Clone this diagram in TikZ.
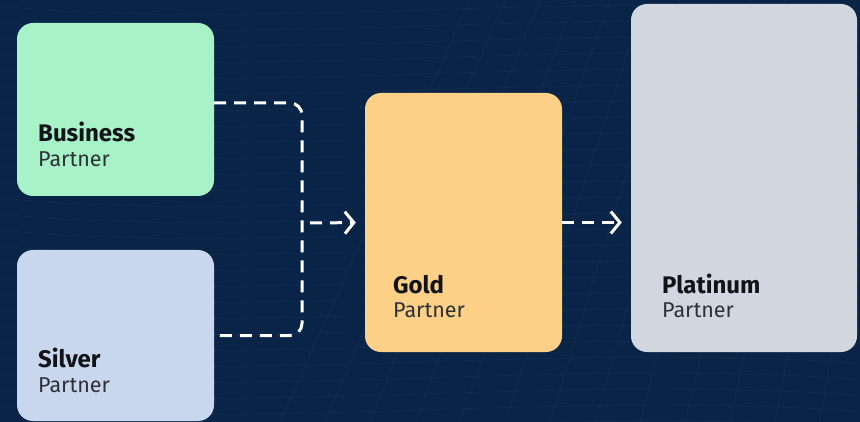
\documentclass[tikz,border=0pt]{standalone}
\usepackage{fontspec}
\setmainfont{Fira Sans}
\usetikzlibrary{arrows.meta}

\definecolor{navy}{HTML}{0A2447}
\definecolor{meshblue}{HTML}{5A86C0}
\definecolor{bizgreen}{HTML}{A8F2C8}
\definecolor{silverblue}{HTML}{C9D7EE}
\definecolor{goldorange}{HTML}{FDD087}
\definecolor{platgray}{HTML}{D2D6DE}
\definecolor{titleink}{HTML}{111318}
\definecolor{subink}{HTML}{2E3138}

\begin{document}
\begin{tikzpicture}[x=1pt, y=-1pt,
  box/.style = {rounded corners=16pt, inner sep=0pt},
  title/.style = {anchor=base west, inner sep=0pt, font=\fontsize{24}{26}\selectfont\bfseries, text=titleink},
  sub/.style = {anchor=base west, inner sep=0pt, font=\fontsize{21.5}{24}\selectfont, text=subink},
  flow/.style = {white, line width=3pt, dash pattern=on 12pt off 8pt},
  arr/.style = {-{Straight Barb[length=9pt, width=22pt, line width=3pt]}},
  mesh/.style = {meshblue, opacity=0.1, line width=0.6pt}]

% background
\useasboundingbox (0,0) rectangle (860,422);
\fill[navy] (0,0) rectangle (860,422);
\begin{scope}
\clip (0,0) rectangle (860,422);
\foreach \i in {0,...,28}
  \draw[mesh] (0,{\i*16-10}) .. controls (250,{\i*16+15}) and (550,{\i*16-25}) .. (860,{\i*16-5});
\foreach \i in {0,...,14}
  \draw[mesh] ({280+\i*45},422) -- ({470+\i*35},0);
\end{scope}

% boxes
\node[box, fill=bizgreen, minimum width=197pt, minimum height=173pt] (biz) at (115.5,109.5) {};
\node[box, fill=silverblue, minimum width=197pt, minimum height=171pt] (silver) at (115.5,335.5) {};
\node[box, fill=goldorange, minimum width=197pt, minimum height=259pt] (gold) at (463.5,222.5) {};
\node[box, fill=platgray, minimum width=226pt, minimum height=348pt] (plat) at (744,178) {};

% labels
\node[title] (bizttl) at (38,142) {Business};
\node[sub] (bizsub) at (38,167) {Partner};
\node[title] (silverttl) at (38,367) {Silver};
\node[sub] (silversub) at (38,392) {Partner};
\node[title] (goldttl) at (393,294) {Gold};
\node[sub] (goldsub) at (393,318) {Partner};
\node[title] (platttl) at (662,294) {Platinum};
\node[sub] (platsub) at (662,318) {Partner};

% connectors
\coordinate (join) at (302,223);
\draw[flow, rounded corners=12pt] ([yshift=6.5pt]biz.east) -| (join) |- (silver.east);
\draw[flow, arr, shorten >=9pt] ([xshift=8pt]join) -- (gold.west);
\draw[flow, arr, shorten >=9pt] (gold.east) -- (plat.west |- gold.east);

\end{tikzpicture}
\end{document}
